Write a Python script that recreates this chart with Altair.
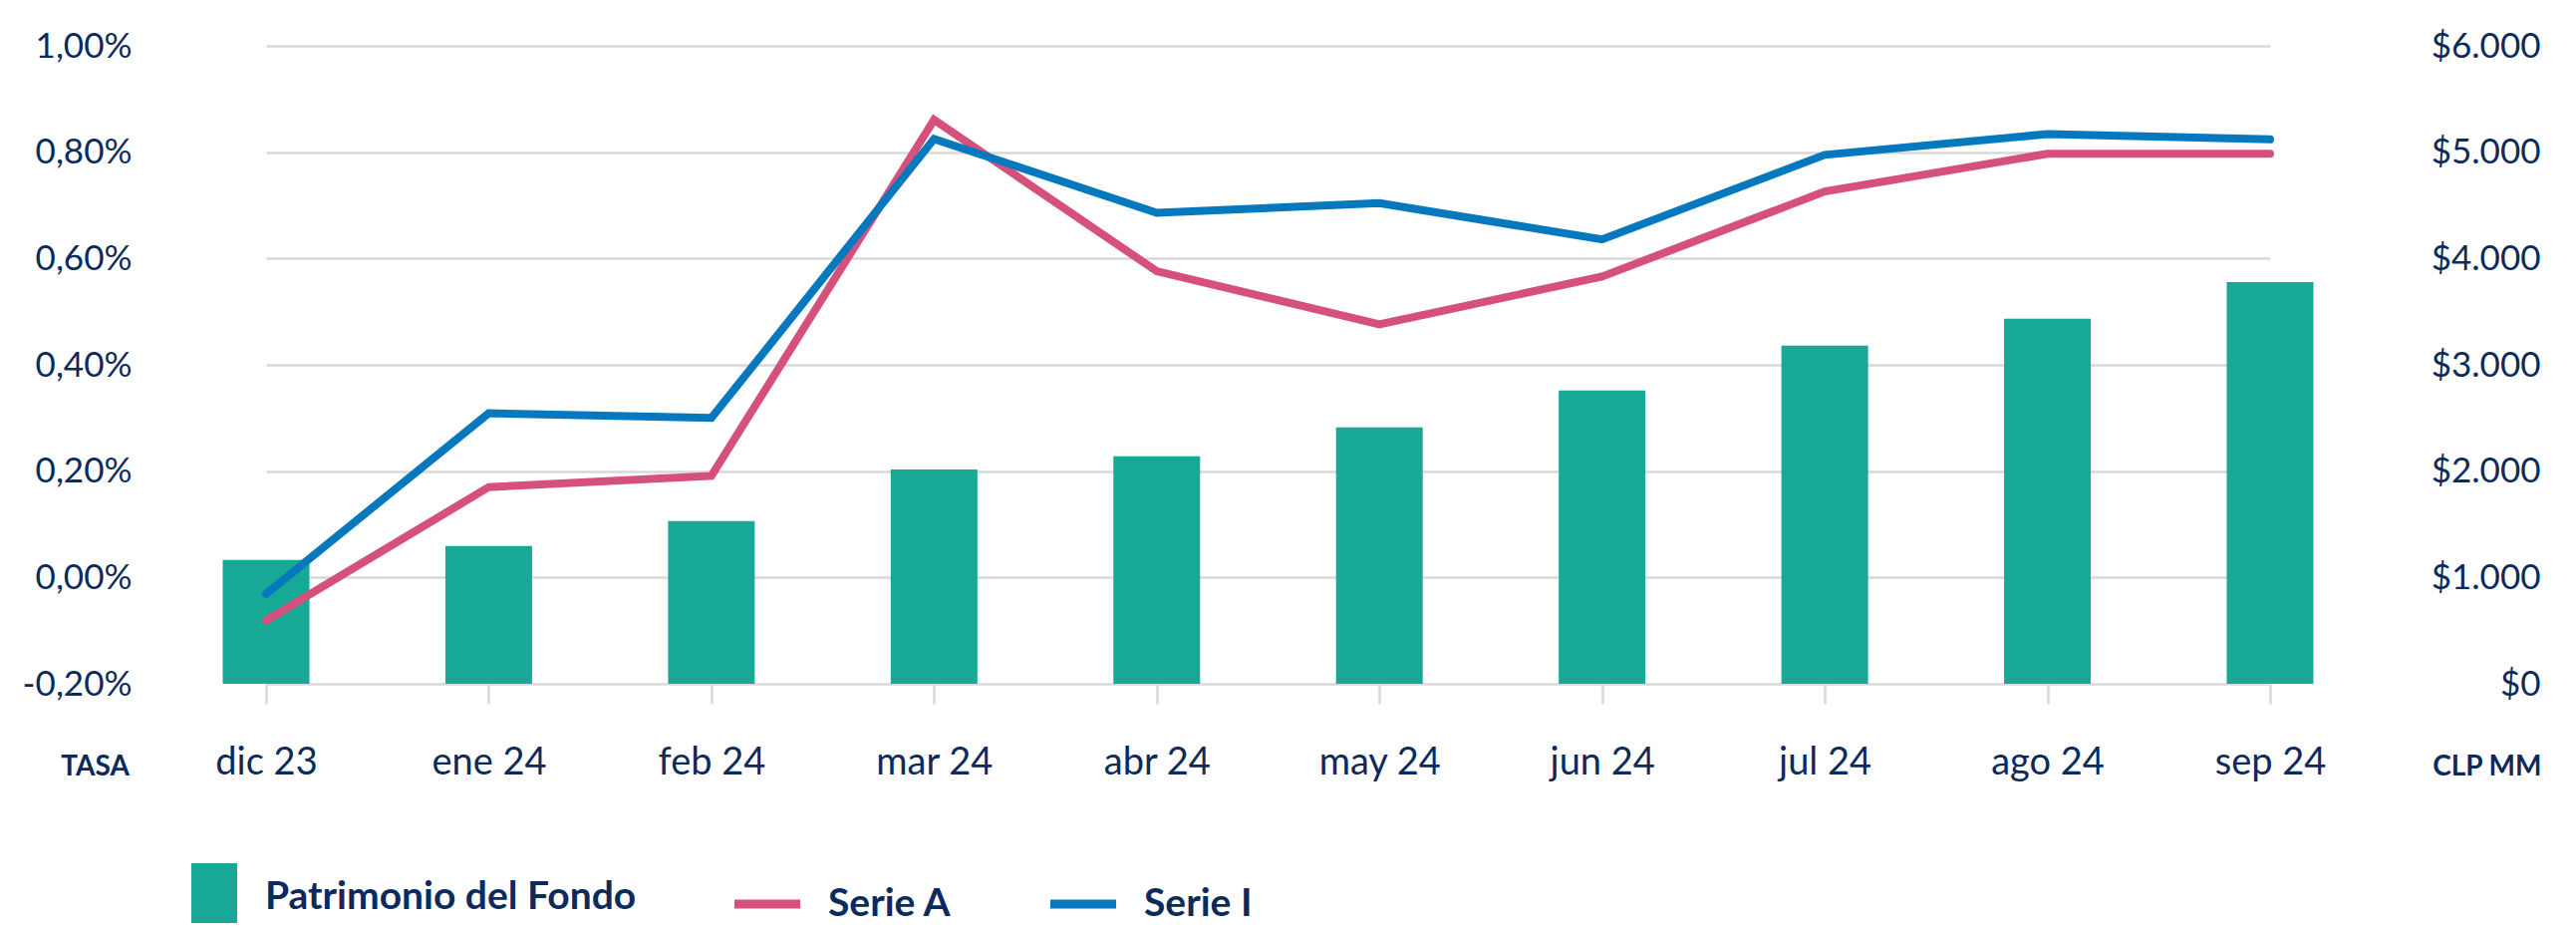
import altair as alt
import pandas as pd

# ---------------- data ----------------
meses = ["dic 23", "ene 24", "feb 24", "mar 24", "abr 24",
         "may 24", "jun 24", "jul 24", "ago 24", "sep 24"]
patrimonio = [1165, 1297, 1531, 2016, 2141, 2412, 2759, 3181, 3434, 3778]   # CLP MM
serie_a = [-0.081, 0.170, 0.191, 0.861, 0.576, 0.476, 0.566, 0.726, 0.797, 0.797]  # %
serie_i = [-0.031, 0.309, 0.300, 0.825, 0.686, 0.704, 0.636, 0.795, 0.834, 0.824]  # %
series = ["Patrimonio del Fondo", "Serie A", "Serie I"]
tasa_ticks = [-0.2, 0.0, 0.2, 0.4, 0.6, 0.8, 1.0]
clp_ticks = [0, 1000, 2000, 3000, 4000, 5000, 6000]

# ---------------- styles ----------------
colores = ["#17A996", "#D6507C", "#0679BE"]
NAVY = "#0B2B5C"
GRID = "#D9D9D9"
FONT = "Lato"

bar_df = pd.DataFrame({"mes": meses, "valor": patrimonio, "serie": series[0]})
line_df = pd.concat([
    pd.DataFrame({"mes": meses, "idx": range(len(meses)), "tasa": serie_a, "serie": series[1]}),
    pd.DataFrame({"mes": meses, "idx": range(len(meses)), "tasa": serie_i, "serie": series[2]}),
], ignore_index=True)

x_scale = alt.Scale(type="point", range=[75, 2086], padding=0)
x_axis = alt.Axis(
    title=None, labelAngle=0, labelFont=FONT, labelFontSize=38, labelColor=NAVY,
    labelPadding=40, ticks=True, tickSize=20, tickColor=GRID, tickWidth=2.5,
    domain=False, grid=False,
)

color_scale = alt.Scale(domain=series, range=colores)

rect_path = "M-0.394,-1.03h1.394v2.06h-1.394z"
line_path = "M-1,-0.14h2v0.28h-2z"
legend = alt.Legend(
    title=None, orient="none", direction="horizontal",
    legendX=-20, legendY=821, padding=0,
    symbolSize=4356, symbolStrokeWidth=0, symbolOpacity=1,
    symbolType={"expr": "datum.value === 'Patrimonio del Fondo' ? '" + rect_path + "' : '" + line_path + "'"},
    symbolFillColor={"expr": "scale('color', datum.value)"},
    symbolStrokeColor="transparent",
    labelFont=FONT, labelFontSize=39, labelFontWeight="bold", labelColor=NAVY,
    labelOffset=28, columnPadding=98, labelLimit=1000,
)

left_axis = alt.Axis(
    orient="left", values=tasa_ticks,
    labelExpr="replace(replace(format(datum.value, '.2f'), '.', ','), '\u2212', '-') + '%'",
    labelFont=FONT, labelFontSize=35, labelColor=NAVY, labelPadding=60,
    ticks=False, tickSize=0, domain=False,
    grid=True, gridColor=GRID, gridWidth=2.5,
    title="TASA", titleAngle=0, titleX=-97, titleY=731, titleAlign="center",
    titleBaseline="alphabetic", titleFont=FONT, titleFontSize=28,
    titleFontWeight="bold", titleColor=NAVY,
)

right_axis = alt.Axis(
    orient="right", values=clp_ticks,
    labelExpr="'$' + replace(format(datum.value, ',.0f'), ',', '.')",
    labelFont=FONT, labelFontSize=35, labelColor=NAVY, labelPadding=173,
    labelAlign="right",
    ticks=False, tickSize=0, domain=False, grid=False,
    title="CLP MM", titleAngle=0, titleX=174, titleY=731, titleAlign="right",
    titleBaseline="alphabetic", titleFont=FONT, titleFontSize=28,
    titleFontWeight="bold", titleColor=NAVY,
)

bars = alt.Chart(bar_df).mark_bar(size=87).encode(
    x=alt.X("mes:N", sort=meses, scale=x_scale, axis=x_axis),
    y=alt.Y("valor:Q", scale=alt.Scale(domain=[0, 6000], nice=False, zero=True), axis=right_axis),
    color=alt.Color("serie:N", scale=color_scale, legend=legend),
)

lines = alt.Chart(line_df).mark_line(strokeWidth=8, strokeCap="round", strokeJoin="miter").encode(
    x=alt.X("mes:N", sort=meses, scale=x_scale, axis=x_axis),
    y=alt.Y("tasa:Q", scale=alt.Scale(domain=[-0.2, 1.0], nice=False, zero=False), axis=left_axis),
    color=alt.Color("serie:N", scale=color_scale, legend=legend),
    order=alt.Order("idx:Q"),
)

chart = (
    alt.layer(bars, lines)
    .resolve_scale(y="independent")
    .properties(
        width=2184, height=640,
        padding={"left": 184, "top": 38, "right": 201, "bottom": 240},
        autosize=alt.AutoSizeParams(type="none"),
        background="white",
    )
    .configure_view(strokeWidth=0)
)

chart.save("out.html", embed_options={"renderer": "svg", "actions": False})
